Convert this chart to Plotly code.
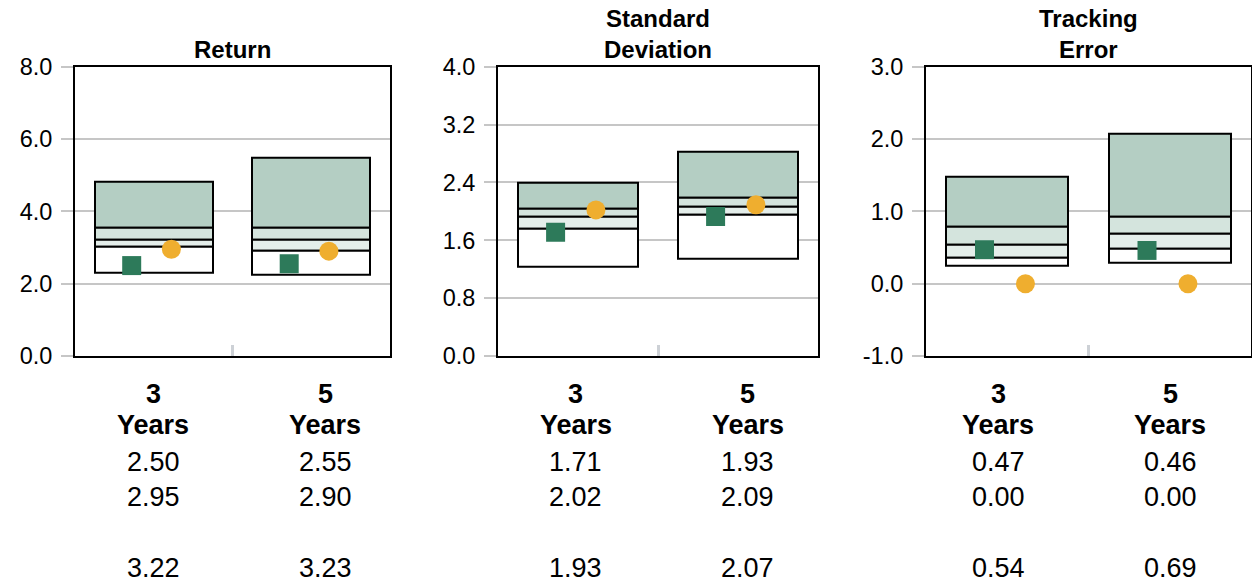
import plotly.graph_objects as go

W, H = 1252, 584

categories = [0, 1]
period_num = ["3", "5"]
period_word = ["Years", "Years"]
panel_titles = [["Return"], ["Standard", "Deviation"], ["Tracking", "Error"]]

# Return
ret_p5 = [4.83, 5.49]
ret_p25 = [3.56, 3.56]
ret_med = [3.22, 3.23]
ret_p75 = [3.02, 2.92]
ret_p95 = [2.31, 2.25]
ret_port = [2.50, 2.55]
ret_bench = [2.95, 2.90]

# Standard deviation
sd_p5 = [2.39, 2.82]
sd_p25 = [2.03, 2.195]
sd_med = [1.93, 2.07]
sd_p75 = [1.76, 1.95]
sd_p95 = [1.235, 1.346]
sd_port = [1.71, 1.93]
sd_bench = [2.02, 2.09]

# Tracking error
te_p5 = [1.475, 2.08]
te_p25 = [0.79, 0.927]
te_med = [0.54, 0.69]
te_p75 = [0.354, 0.49]
te_p95 = [0.243, 0.295]
te_port = [0.47, 0.46]
te_bench = [0.00, 0.00]

# y-axis ticks (labels)
ret_ticks = [0.0, 2.0, 4.0, 6.0, 8.0]
sd_ticks = [0.0, 0.8, 1.6, 2.4, 3.2, 4.0]
te_ticks = [-1.0, 0.0, 1.0, 2.0, 3.0]
y_ticks = [ret_ticks, sd_ticks, te_ticks]

panels = [
    (ret_p5, ret_p25, ret_med, ret_p75, ret_p95, ret_port, ret_bench),
    (sd_p5, sd_p25, sd_med, sd_p75, sd_p95, sd_port, sd_bench),
    (te_p5, te_p25, te_med, te_p75, te_p95, te_port, te_bench),
]

# layout (pixels)
x_px = [(75, 390), (498, 818), (926, 1251)]
y_top_px, y_bot_px = 66.7, 356
table_col0_px, table_col_step, table_panel_step = 153, 172, 422.5

BAND_COLORS = ["#b4cec3", "#d4e4dd", "#e4eeea", "#ffffff"]
SQ_COLOR = "#2d7a5a"
CIRC_COLOR = "#efae2f"
GRID = "#c6c6c6"
FONT = "Liberation Sans, Arial, Helvetica, sans-serif"

def py(px):
    return 1 - px / H

fig = go.Figure()
annotations = []

for i, (p5, p25, med, p75, p95, port, bench) in enumerate(panels):
    n = "" if i == 0 else str(i + 1)
    xa, ya = "x" + n, "y" + n
    bands = [(p25, p5), (med, p25), (p75, med), (p95, p75)]
    for (lo, hi), col in zip(bands, BAND_COLORS):
        fig.add_trace(go.Bar(
            x=categories, y=[h - l for h, l in zip(hi, lo)], base=lo,
            width=0.75, marker=dict(color=col, line=dict(color="black", width=2)),
            xaxis=xa, yaxis=ya, showlegend=False, hoverinfo="skip"))
    fig.add_trace(go.Scatter(
        x=[c - 0.14 for c in categories], y=port, mode="markers",
        marker=dict(symbol="square", size=19, color=SQ_COLOR),
        xaxis=xa, yaxis=ya, showlegend=False))
    fig.add_trace(go.Scatter(
        x=[c + 0.112 for c in categories], y=bench, mode="markers",
        marker=dict(symbol="circle", size=19, color=CIRC_COLOR),
        xaxis=xa, yaxis=ya, showlegend=False))

    x0, x1 = x_px[i]
    tv = y_ticks[i]
    fig.update_layout(**{
        "xaxis" + n: dict(
            domain=[x0 / W, x1 / W], range=[-0.5, 1.5], anchor=ya, automargin=False,
            showgrid=False, zeroline=False, showline=True, mirror=True,
            linecolor="black", linewidth=2,
            tickmode="array", tickvals=[0.5], ticks="inside", ticklen=11,
            tickwidth=3, tickcolor="#cdd1d6", showticklabels=False, fixedrange=True),
        "yaxis" + n: dict(
            domain=[py(y_bot_px), py(y_top_px)], range=[tv[0], tv[-1]], anchor=xa,
            automargin=False,
            tickmode="array", tickvals=tv, ticktext=["%.1f" % v for v in tv],
            showgrid=True, gridcolor=GRID, gridwidth=2, zeroline=False,
            showline=True, mirror=True, linecolor="black", linewidth=2,
            ticks="outside", ticklen=12, tickwidth=2, tickcolor=GRID,
            ticklabelstandoff=4,
            tickfont=dict(size=23.5, color="black", family=FONT), fixedrange=True),
    })

    # titles
    lines = panel_titles[i]
    ys = [49] if len(lines) == 1 else [19, 49]
    for t, yy in zip(lines, ys):
        annotations.append(dict(
            text="<b>%s</b>" % t, xref="x%s domain" % n, x=0.5, yref="paper", y=py(yy),
            xanchor="center", yanchor="middle", showarrow=False,
            font=dict(size=24, color="black", family=FONT)))

    # table below
    for c in categories:
        tx = (table_col0_px + i * table_panel_step + c * table_col_step) / W
        for txt, yy in [("<b>%s</b>" % period_num[c], 394), ("<b>%s</b>" % period_word[c], 425)]:
            annotations.append(dict(
                text=txt, xref="paper", x=tx, yref="paper", y=py(yy),
                xanchor="center", yanchor="middle", showarrow=False,
                font=dict(size=27, color="black", family=FONT)))
        for val, yy in [(port[c], 462), (bench[c], 497), (med[c], 568)]:
            annotations.append(dict(
                text="%.2f" % val, xref="paper", x=tx, yref="paper", y=py(yy),
                xanchor="center", yanchor="middle", showarrow=False,
                font=dict(size=27, color="black", family=FONT)))

fig.update_layout(
    width=W, height=H, margin=dict(l=0, r=0, t=0, b=0, pad=0, autoexpand=False),
    paper_bgcolor="white", plot_bgcolor="white",
    barmode="overlay", bargap=0, annotations=annotations,
    font=dict(family=FONT, color="black"),
)

fig.write_html("out.html", config={"displayModeBar": False},
               post_script="document.body.style.margin='0';document.body.style.overflow='hidden';")
